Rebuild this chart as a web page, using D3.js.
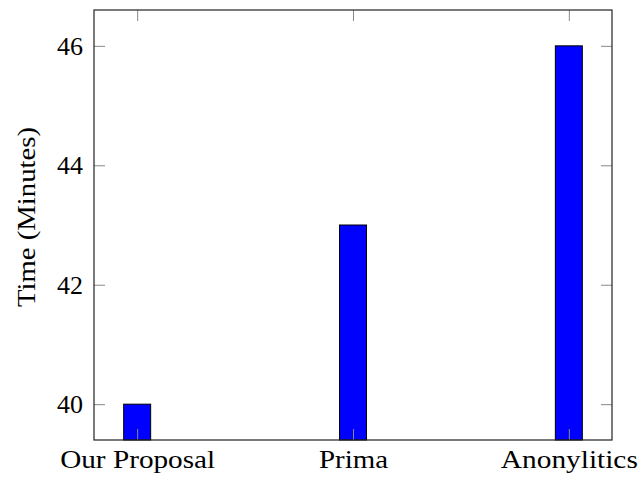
<!DOCTYPE html>
<html>
<head>
<meta charset="utf-8">
<script src="https://cdn.jsdelivr.net/npm/d3@7"></script>
<style>
  body { margin: 0; background: #fff; }
  text { font-family: 'Liberation Serif', 'DejaVu Serif', serif; fill: #000; }
</style>
</head>
<body>
<div class="chart"></div>
<script>
const categories = ['Our Proposal', 'Prima', 'Anonylitics'];
const labelWidths = [155, 69, 137];
const times = [40, 43, 46];
const yTicks = [40, 42, 44, 46];

const width = 640;
const height = 479;
const plotLeft = 94, plotRight = 612, plotTop = 10, plotBottom = 440;

const svg = d3.select('.chart')
  .append('svg')
  .attr('width', width)
  .attr('height', height);

// category index -> pixel
const xScale = d3.scaleLinear()
  .domain([-0.2, categories.length - 1 + 0.2])
  .range([plotLeft, plotRight]);
const yScale = d3.scaleLinear()
  .domain([39.4, 46.6])
  .range([plotBottom, plotTop]);
const barWidth = 0.125 * (xScale(1) - xScale(0));

// bars
svg.selectAll('rect.bar')
  .data(times)
  .enter()
  .append('rect')
  .attr('class', 'bar')
  .attr('x', (d, i) => xScale(i) - barWidth / 2)
  .attr('y', d => yScale(d))
  .attr('width', barWidth)
  .attr('height', d => plotBottom - yScale(d))
  .attr('fill', '#0000ff')
  .attr('stroke', '#000')
  .attr('stroke-width', 1);

// inward ticks on all four sides
const tickLen = 11;
const xAxisBottom = d3.axisBottom(xScale)
  .tickValues(d3.range(categories.length))
  .tickFormat(i => categories[i])
  .tickSizeInner(-tickLen).tickSizeOuter(0).tickPadding(28);
const xAxisTop = d3.axisTop(xScale)
  .tickValues(d3.range(categories.length))
  .tickFormat('')
  .tickSizeInner(-tickLen).tickSizeOuter(0);
const yAxisLeft = d3.axisLeft(yScale)
  .tickValues(yTicks)
  .tickSizeInner(-tickLen).tickSizeOuter(0).tickPadding(11);
const yAxisRight = d3.axisRight(yScale)
  .tickValues(yTicks)
  .tickFormat('')
  .tickSizeInner(-tickLen).tickSizeOuter(0);

const gx = svg.append('g').attr('transform', `translate(0,${plotBottom})`).call(xAxisBottom);
svg.append('g').attr('transform', `translate(0,${plotTop})`).call(xAxisTop);
const gy = svg.append('g').attr('transform', `translate(${plotLeft},0)`).call(yAxisLeft);
svg.append('g').attr('transform', `translate(${plotRight},0)`).call(yAxisRight);

svg.selectAll('g').attr('font-family', null).attr('font-size', null);
svg.selectAll('.domain').remove();
svg.selectAll('.tick line').attr('stroke', '#888').attr('stroke-width', 1);
svg.selectAll('.tick text').attr('font-size', 26);
gx.selectAll('.tick text')
  .attr('dy', 0)
  .attr('textLength', i => labelWidths[i])
  .attr('lengthAdjust', 'spacingAndGlyphs');

// frame
svg.append('rect')
  .attr('x', plotLeft)
  .attr('y', plotTop)
  .attr('width', plotRight - plotLeft)
  .attr('height', plotBottom - plotTop)
  .attr('fill', 'none')
  .attr('stroke', '#222')
  .attr('stroke-width', 1.2);

svg.append('text')
  .attr('transform', 'translate(35,217) rotate(-90)')
  .attr('text-anchor', 'middle')
  .attr('font-size', 26)
  .attr('textLength', 180)
  .attr('lengthAdjust', 'spacingAndGlyphs')
  .text('Time (Minutes)');
</script>
</body>
</html>
